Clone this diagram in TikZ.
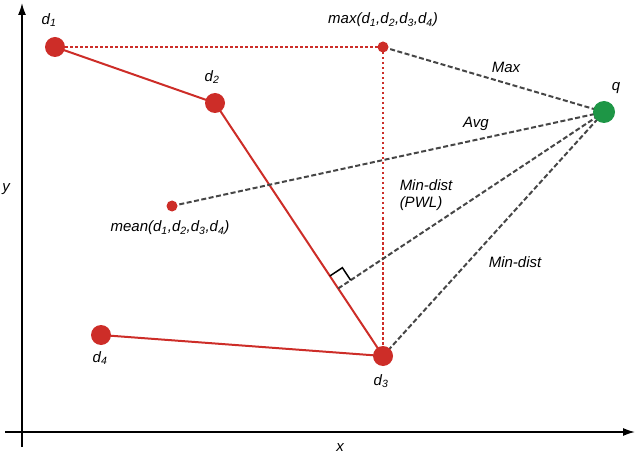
\documentclass[tikz,border=0pt]{standalone}
\usepackage{fontspec}
\setmainfont{Liberation Sans}
\usetikzlibrary{calc,arrows.meta}
\definecolor{pr}{RGB}{205,45,40}
\definecolor{pg}{RGB}{30,150,70}
\definecolor{pd}{RGB}{70,70,70}
\newcommand{\sbs}[1]{\textsubscript{#1}}
\begin{document}
\begin{tikzpicture}[x=1pt,y=-1pt,
  lbl/.style={font=\fontsize{15}{17}\selectfont\itshape, inner sep=1pt},
  big/.style={circle,fill=pr,minimum size=20pt,inner sep=0pt},
  small/.style={circle,fill=pr,minimum size=11pt,inner sep=0pt},
  seg/.style={pr,line width=2pt},
  dd/.style={pd,line width=2pt,dash pattern=on 5pt off 2.5pt},
  dt/.style={pr,line width=2.5pt,dash pattern=on 2.5pt off 2.5pt}]
\useasboundingbox (0,0) rectangle (636,454);
\draw[-{Latex[length=12pt,width=8pt]},line width=1.5pt] (22,447) -- (22,3);
\draw[-{Latex[length=12pt,width=8pt]},line width=1.5pt] (5,432) -- (635,432);
\node[lbl] (yl) at (6,189) {y};
\node[lbl] (xl) at (340,448) {x};
\coordinate (d1) at (55,47);
\coordinate (d2) at (215,103);
\coordinate (d3) at (383,356);
\coordinate (d4) at (101,335);
\coordinate (mx) at (383,47);
\coordinate (mn) at (172,206);
\coordinate (q) at (604,112);
\coordinate (F) at ($(d2)!(q)!(d3)$);
\draw[dt] (d1) -- (mx);
\draw[dt] (mx) -- (d3);
\draw[seg] (d1) -- (d2) -- (d3);
\draw[seg] (d4) -- (d3);
\draw[dd] (mx) -- (q);
\draw[dd] (mn) -- (q);
\draw[dd] (F) -- (q);
\draw[dd] (d3) -- (q);
\draw[line width=1.5pt] ($(F)!15pt!(d2)$) -- ($($(F)!15pt!(d2)$)+($(F)!15pt!(q)$)-(F)$) -- ($(F)!15pt!(q)$);
\node[big] (n1) at (d1) {};
\node[big] (n2) at (d2) {};
\node[big] (n3) at (d3) {};
\node[big] (n4) at (d4) {};
\node[small] (nmx) at (mx) {};
\node[small] (nmn) at (mn) {};
\node[circle,fill=pg,minimum size=22pt,inner sep=0pt] (nq) at (q) {};
\node[lbl] (l1) at (49,20) {d\sbs{1}};
\node[lbl] (l2) at (212,77) {d\sbs{2}};
\node[lbl] (l3) at (381,381) {d\sbs{3}};
\node[lbl] (l4) at (100,358) {d\sbs{4}};
\node[lbl] (lq) at (616,88) {q};
\node[lbl] (lmx) at (383,20) {max(d\sbs{1},d\sbs{2},d\sbs{3},d\sbs{4})};
\node[lbl] (lmn) at (170,228) {mean(d\sbs{1},d\sbs{2},d\sbs{3},d\sbs{4})};
\node[lbl] (lmax) at (506,67) {Max};
\node[lbl] (lavg) at (476,124) {Avg};
\node[lbl,align=left] (lpwl) at (426,195) {Min-dist\\(PWL)};
\node[lbl] (lmd) at (515,262) {Min-dist};
\end{tikzpicture}
\end{document}
